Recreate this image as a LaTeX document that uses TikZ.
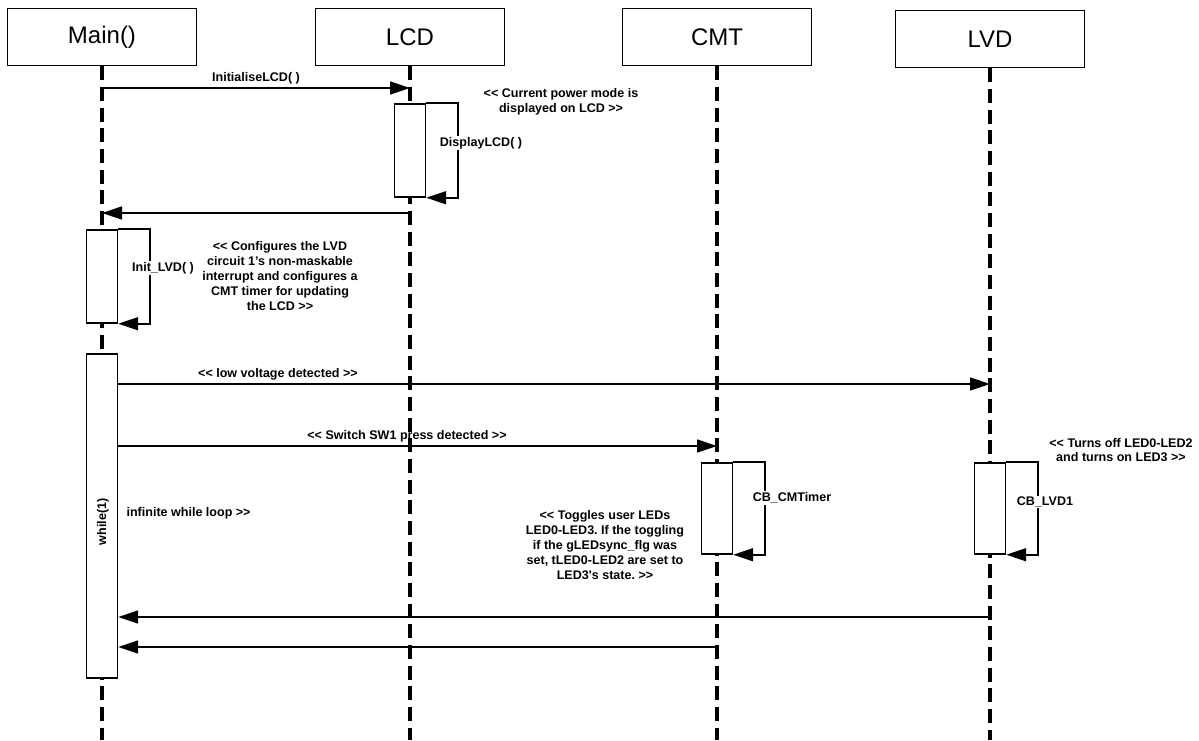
\documentclass[tikz,border=0pt]{standalone}
\usepackage{fontspec}
\setmainfont{Liberation Sans}[Ligatures=TeXOff]
\usetikzlibrary{arrows.meta}
\usetikzlibrary{positioning}
\frenchspacing

\begin{document}
\begin{tikzpicture}[x=0.75pt,y=-0.75pt,
  head/.style={draw,line width=1.1pt,minimum width=142pt,minimum height=42.75pt,inner sep=0pt,font=\fontsize{18}{20}\selectfont},
  lifeline/.style={line width=2.6pt,dash pattern=on 10.5pt off 5pt},
  act/.style={draw,fill=white,line width=1.1pt,minimum width=23.25pt,inner sep=0pt},
  msg/.style={line width=1.2pt,-{Triangle[length=15pt,width=9.75pt]}},
  lbl/.style={font=\fontsize{9.4}{11.2}\selectfont\bfseries,align=center,inner sep=1pt}]
  \useasboundingbox (0,0) rectangle (1199,740);
  %heads
  \node[head] (main) at (102,37) {Main()};
  \node[head] (lcd) at (410,37) {LCD};
  \node[head] (cmt) at (717,37) {CMT};
  \node[head] (lvd) at (990,39) {LVD};
  \coordinate (mainEnd) at (102,740);
  \coordinate (lcdEnd) at (410,740);
  \coordinate (cmtEnd) at (717,740);
  \coordinate (lvdEnd) at (990,740);
  \draw[lifeline] (main) -- (mainEnd);
  \draw[lifeline] (lcd) -- (lcdEnd);
  \draw[lifeline] (cmt) -- (cmtEnd);
  \draw[lifeline] (lvd) -- (lvdEnd);

  %lcd init
  \draw[msg] (main |- 0,88) -- (lcd |- 0,88);
  \node[lbl,above=2pt] (initlcdlbl) at (256,88) {InitialiseLCD( )};
  \node[act,minimum height=69.75pt] (disp) at (410,150.5) {};
  \draw[msg] (disp.north east) -- ++(32,0) |- (disp.south east);
  \node[lbl,fill=white] (displbl) at (481,143) {DisplayLCD( )};
  \node[lbl] (powernote) at (561,102) {<< Current power mode is\\displayed on LCD >>};
  \draw[msg] (lcd |- 0,213) -- (main |- 0,213);

  %lvd init
  \node[act,minimum height=69.75pt] (init) at (102,276.5) {};
  \draw[msg] (init.north east) -- ++(32,0) |- (init.south east);
  \node[lbl,fill=white] (initlbl) at (163,268) {Init\_LVD( )};
  \node[lbl] (initnote) at (280,276) {<< Configures the LVD\\circuit 1’s non-maskable\\interrupt and configures a\\CMT timer for updating\\the LCD >>};

  %loop
  \node[act,minimum height=243pt] (whl) at (102,516) {};
  \node[lbl,rotate=90] (whllbl) at (103,522) {while(1)};
  \node[lbl,anchor=west] (loopnote) at (125,513) {infinite while loop >>};
  \draw[msg] (whl.east |- 0,384) -- (lvd |- 0,384);
  \node[lbl,above=2pt] (lowlbl) at (278,384) {<< low voltage detected >>};
  \draw[msg] (whl.east |- 0,446) -- (cmt |- 0,446);
  \node[lbl,above=2pt] (swlbl) at (407,446) {<< Switch SW1 press detected >>};

  %callbacks
  \node[act,minimum height=68.25pt] (cmtcb) at (717,508.5) {};
  \draw[msg] (cmtcb.north east) -- ++(32,0) |- (cmtcb.south east);
  \node[lbl,fill=white] (cmtlbl) at (792,498) {CB\_CMTimer};
  \node[lbl] (togglenote) at (605,545) {<< Toggles user LEDs\\LED0-LED3. If the toggling\\if the gLEDsync\_flg was\\set, tLED0-LED2 are set to\\LED3's state. >>};
  \node[act,minimum height=68.25pt] (lvdcb) at (990,508.5) {};
  \draw[msg] (lvdcb.north east) -- ++(32,0) |- (lvdcb.south east);
  \node[lbl,fill=white] (lvdlbl) at (1045,502) {CB\_LVD1};
  \node[lbl] (offnote) at (1121,450) {<< Turns off LED0-LED2\\and turns on LED3 >>};

  %returns
  \draw[msg] (lvd |- 0,617) -- (whl.east |- 0,617);
  \draw[msg] (cmt |- 0,647) -- (whl.east |- 0,647);
\end{tikzpicture}
\end{document}
